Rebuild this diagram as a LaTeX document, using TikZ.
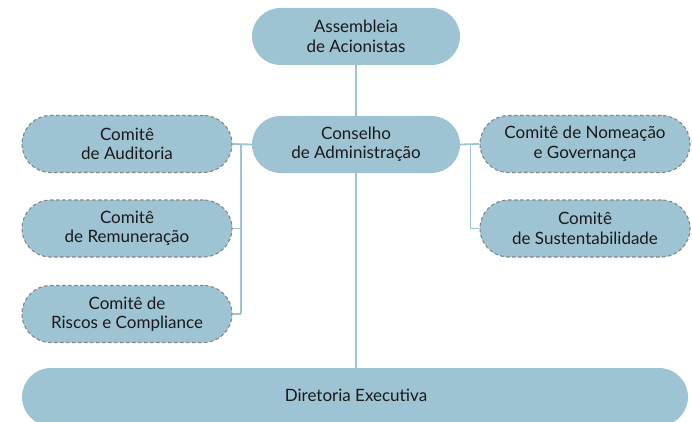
\documentclass[tikz,border=0pt]{standalone}
\usepackage{fontspec}
\setmainfont{Lato}
\definecolor{boxblue}{HTML}{9EC3D3}
\definecolor{dashgrey}{HTML}{858585}
\definecolor{txt}{HTML}{1A1A1A}
\begin{document}
\begin{tikzpicture}[x=1pt,y=1pt,
  box/.style={draw=none,fill=boxblue,rounded corners=28.5pt,minimum height=57pt,
    inner sep=0pt,align=center,text=txt,font=\fontsize{17}{19.5}\selectfont},
  main/.style={box,minimum width=208pt},
  comm/.style={box,minimum width=210pt,draw=dashgrey,line width=1.1pt,dash pattern=on 3.5pt off 2.5pt},
  link/.style={draw=boxblue,line width=1.8pt}]
\useasboundingbox (0,0) rectangle (692,421);
\clip (0,0) rectangle (692,421);
\node[main] (ass) at (356,384.5) {Assembleia\\de Acionistas};
\node[main] (cons) at (356,276.5) {Conselho\\de Administração};
\node[comm] (aud) at (127,277) {Comitê\\de Auditoria};
\node[comm] (rem) at (127,192.5) {Comitê\\de Remuneração};
\node[comm] (ris) at (127,107) {Comitê de\\Riscos e Compliance};
\node[comm] (nom) at (585,277) {Comitê de Nomeação\\e Governança};
\node[comm] (sus) at (585,192.5) {Comitê\\de Sustentabilidade};
\node[box,minimum width=666pt,minimum height=58pt,rounded corners=29pt] (dir) at (355,24) {};
\node[text=txt,font=\fontsize{17}{19.5}\selectfont] (dirt) at (356,26) {Diretoria Executiva};
\coordinate (lt) at (241,277);
\coordinate (lm) at (241,192.5);
\coordinate (lb) at (241,107);
\coordinate (rt) at (470.5,277);
\coordinate (rb) at (470.5,192.5);
\draw[link] (ass.south) -- (cons.north);
\draw[link] (cons.south) -- (dir.north -| cons.south);
\draw[link] (aud.east) -- (cons.west);
\draw[link] (lt) -- (lb);
\draw[link] (rem.east) -- (lm);
\draw[link] (ris.east) -- (lb);
\draw[link] (cons.east) -- (nom.west);
\draw[link] (rt) -- (rb);
\draw[link] (sus.west) -- (rb);
\end{tikzpicture}
\end{document}
